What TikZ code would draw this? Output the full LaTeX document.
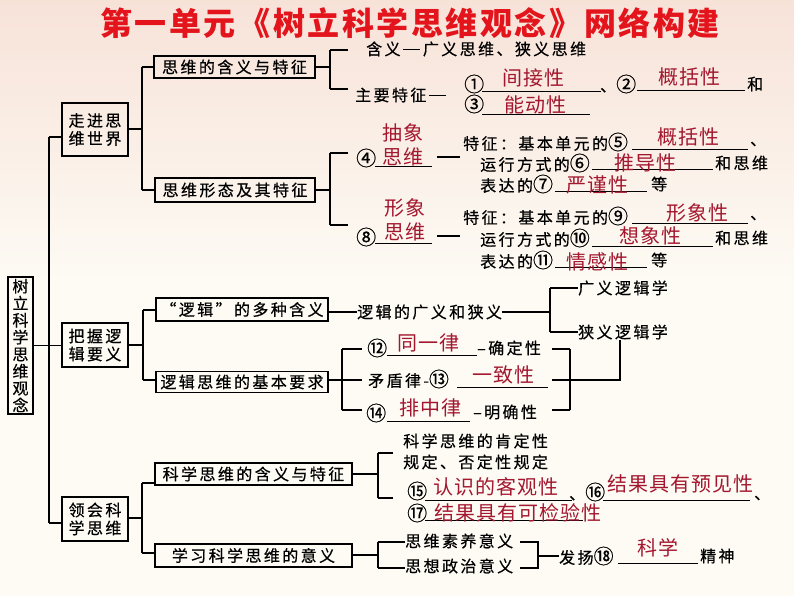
\documentclass[tikz,border=0pt]{standalone}
\usepackage{fontspec}
\newfontfamily\cjk{Noto Sans CJK SC}[LetterSpace=15,FakeBold=0.5]
\newfontfamily\cjkred{Noto Sans CJK SC}[LetterSpace=5]
\newfontfamily\cjktitle{Noto Sans CJK SC}[LetterSpace=8]
\newcommand\cn[1]{{\fontsize{20}{20}\selectfont #1}}
\newcommand\dash{\,\raisebox{0.32em}{\rule{17pt}{1.1pt}}\,}
\definecolor{ansred}{HTML}{A3172F}
\definecolor{titlered}{HTML}{E3141B}
\definecolor{bgtop}{HTML}{F7E2D8}
\definecolor{bgbot}{HTML}{FDFBF4}
\begin{document}
\begin{tikzpicture}[x=1pt,y=-1pt,
  box/.style={draw, line width=1.3pt, inner sep=0pt, align=center, font=\cjk\fontsize{16}{18}\selectfont},
  ln/.style={line width=1.4pt},
  txt/.style={anchor=west, inner sep=0pt, font=\cjk\fontsize{16}{18}\selectfont},
  ans/.style={inner sep=0pt, text=ansred, align=center, font=\cjkred\fontsize{20}{24}\selectfont},
  ul/.style={line width=1pt}]
\useasboundingbox (0,0) rectangle (794,596);
\fill[bgbot] (0,0) rectangle (794,596);
\shade[top color=bgtop, bottom color=bgbot] (0,0) rectangle (794,280);
% title
\node[inner sep=0pt, text=titlered, font=\cjktitle\bfseries\fontsize{32}{36}\selectfont] (title) at (410,23) {第一单元《树立科学思维观念》网络构建};
% root
\node[box, minimum width=25, minimum height=137, font=\cjk\fontsize{16}{17}\selectfont] (root) at (20.5,345.5) {树\\立\\科\\学\\思\\维\\观\\念};
% level 1
\node[box, minimum width=66, minimum height=53] (zj) at (95,129.5) {走进思\\维世界};
\node[box, minimum width=66, minimum height=44] (bw) at (95,345) {把握逻\\辑要义};
\node[box, minimum width=66, minimum height=44] (lh) at (95,519) {领会科\\学思维};
% spine
\coordinate (s1) at (49,137);
\coordinate (s2) at (49,345.5);
\coordinate (s3) at (49,523);
\draw[ln] (s1) -- (s3);
\draw[ln] (root.east |- s2) -- (s2);
\draw[ln] (s1) -- (zj.west |- s1);
\draw[ln] (s2) -- (bw.west |- s2);
\draw[ln] (s3) -- (lh.west |- s3);
% level 2
\node[box, minimum width=161, minimum height=22] (A1) at (234.5,67) {思维的含义与特征};
\node[box, minimum width=160, minimum height=24] (A2) at (235,190) {思维形态及其特征};
\node[box, minimum width=172, minimum height=23] (B1) at (242,309.5) {“逻辑”的多种含义};
\node[box, minimum width=172, minimum height=21] (B2) at (242,382) {逻辑思维的基本要求};
\node[box, minimum width=197, minimum height=22] (C1) at (253.5,474) {科学思维的含义与特征};
\node[box, minimum width=197, minimum height=23] (C2) at (253.5,555.5) {学习科学思维的意义};
% level1 -> level2 brackets
\coordinate (k1) at (142,129); \coordinate (k1a) at (142,67); \coordinate (k1b) at (142,190);
\draw[ln] (zj.east |- k1) -- (k1); \draw[ln] (k1a) -- (k1b);
\draw[ln] (k1a) -- (A1.west); \draw[ln] (k1b) -- (A2.west);
\coordinate (k2) at (143,345); \coordinate (k2a) at (143,310); \coordinate (k2b) at (143,380);
\draw[ln] (bw.east |- k2) -- (k2); \draw[ln] (k2a) -- (k2b);
\draw[ln] (k2a) -- (B1.west |- k2a); \draw[ln] (k2b) -- (B2.west |- k2b);
\coordinate (k3) at (142,518); \coordinate (k3a) at (142,483); \coordinate (k3b) at (142,553);
\draw[ln] (lh.east |- k3) -- (k3); \draw[ln] (k3a) -- (k3b);
\draw[ln] (k3a) -- (C1.west |- k3a); \draw[ln] (k3b) -- (C2.west |- k3b);

% ===== A1 =====
\coordinate (a1) at (330,67); \coordinate (a1t) at (330,50); \coordinate (a1b) at (330,89);
\draw[ln] (A1.east) -- (a1); \draw[ln] (a1t) -- (a1b);
\draw[ln] (a1t) -- ++(18,0); \draw[ln] (a1b) -- ++(18,0);
\node[txt] (hy) at (366,49) {含义\dash 广义思维、狭义思维};
\node[txt] (zy) at (355,95) {主要特征\dash};
\node[txt] (n1) at (464,84) {\cn{①}};
\draw[ul] (482,92) -- (601,92);
\node[ans] (r1) at (533,78) {间接性};
\node[txt] (n2) at (600,84) {、\cn{②}};
\draw[ul] (637,91) -- (745,91);
\node[ans] (r2) at (689,77) {概括性};
\node[txt] (he) at (747,84) {和};
\node[txt] (n3) at (464,104) {\cn{③}};
\draw[ul] (482,115) -- (590,115);
\node[ans] (r3) at (535,105) {能动性};

% ===== A2 =====
\coordinate (a2) at (330,190); \coordinate (a2t) at (330,153); \coordinate (a2b) at (330,225);
\draw[ln] (A2.east) -- (a2); \draw[ln] (a2t) -- (a2b);
\draw[ln] (a2t) -- ++(18,0); \draw[ln] (a2b) -- ++(18,0);
% abstract
\node[txt] (n4) at (356,158) {\cn{④}};
\draw[ul] (375,167) -- (432,167);
\node[ans] (r4) at (403,145) {抽象\\思维};
\draw[ln] (437,157) -- (460,157);
\node[txt] (f5) at (463,142) {特征：基本单元的\cn{⑤}};
\draw[ul] (632,150) -- (748,150);
\node[ans] (r5) at (688,137) {概括性};
\node[txt] (d5) at (750,144) {、};
\node[txt] (f6) at (480,163) {运行方式的\cn{⑥}};
\draw[ul] (592,170) -- (713,170);
\node[ans] (r6) at (645,163) {推导性};
\node[txt] (h6) at (715,163) {和思维};
\node[txt] (f7) at (480,184) {表达的\cn{⑦}};
\draw[ul] (555,191) -- (647,191);
\node[ans] (r7) at (597,185) {严谨性};
\node[txt] (e7) at (651,184) {等};
% image
\node[txt] (n8) at (356,237) {\cn{⑧}};
\draw[ul] (375,243) -- (432,243);
\node[ans] (r8) at (405,220) {形象\\思维};
\draw[ln] (437,236) -- (460,236);
\node[txt] (f9) at (463,216) {特征：基本单元的\cn{⑨}};
\draw[ul] (632,223) -- (748,223);
\node[ans] (r9) at (697,213) {形象性};
\node[txt] (d9) at (750,218) {、};
\node[txt] (f10) at (480,238) {运行方式的\cn{⑩}};
\draw[ul] (592,246) -- (713,246);
\node[ans] (r10) at (650,236) {想象性};
\node[txt] (h10) at (715,238) {和思维};
\node[txt] (f11) at (480,260) {表达的\cn{⑪}};
\draw[ul] (555,267) -- (647,267);
\node[ans] (r11) at (597,262) {情感性};
\node[txt] (e11) at (651,260) {等};

% ===== B1 =====
\node[txt] (lj) at (357,312) {逻辑的广义和狭义};
\draw[ln] (B1.east |- lj) -- (lj.west);
\coordinate (b1) at (550,312); \coordinate (b1t) at (550,288); \coordinate (b1b) at (550,332);
\draw[ln] (lj.east) -- (b1); \draw[ln] (b1t) -- (b1b);
\node[txt] (gy) at (578,288) {广义逻辑学};
\node[txt] (xy) at (578,332) {狭义逻辑学};
\draw[ln] (b1t) -- (gy.west); \draw[ln] (b1b) -- (xy.west);

% ===== B2 =====
\coordinate (b2) at (342,380); \coordinate (b2t) at (342,349); \coordinate (b2b) at (342,410);
\draw[ln] (B2.east |- b2) -- (b2); \draw[ln] (b2t) -- (b2b);
\draw[ln] (b2t) -- ++(20,0); \draw[ln] (b2) -- ++(20,0); \draw[ln] (b2b) -- ++(20,0);
\node[txt] (n12) at (367,348) {\cn{⑫}};
\draw[ul] (387,355) -- (477,355);
\node[ans] (r12) at (428,343) {同一律};
\node[txt] (q12) at (477,348) {–确定性};
\node[txt] (n13) at (368,379) {矛盾律-\cn{⑬}};
\draw[ul] (457,387) -- (548,387);
\node[ans] (r13) at (503,375) {一致性};
\node[txt] (n14) at (366,413) {\cn{⑭}};
\draw[ul] (387,421) -- (470,421);
\node[ans] (r14) at (430,408) {排中律};
\node[txt] (q14) at (473,412) {–明确性};
\coordinate (c2t) at (570,349); \coordinate (c2m) at (570,380); \coordinate (c2b) at (570,410);
\coordinate (c2e) at (620,380);
\draw[ln] (552,349) -- (c2t); \draw[ln] (552,380) -- (c2m); \draw[ln] (552,410) -- (c2b);
\draw[ln] (c2t) -- (c2b);
\draw[ln] (c2m) -- (c2e) -- (c2e |- xy.south);

% ===== C1 =====
\coordinate (c1) at (378,474); \coordinate (c1t) at (378,453); \coordinate (c1b) at (378,498);
\draw[ln] (C1.east) -- (c1); \draw[ln] (c1t) -- (c1b);
\draw[ln] (c1t) -- ++(15,0); \draw[ln] (c1b) -- ++(15,0);
\node[txt] (k15a) at (403,441) {科学思维的肯定性};
\node[txt] (k15b) at (403,462) {规定、否定性规定};
\node[txt] (n15) at (407,491) {\cn{⑮}};
\draw[ul] (425,500) -- (572,500);
\node[ans] (r15) at (496,487) {认识的客观性};
\node[txt] (n16) at (569,492) {、\cn{⑯}};
\draw[ul] (603,500) -- (750,500);
\node[ans] (r16) at (680,484) {结果具有预见性};
\node[txt] (d16) at (754,498) {、};
\node[txt] (n17) at (407,513) {\cn{⑰}};
\draw[ul] (425,520) -- (583,520);
\node[ans] (r17) at (518,513) {结果具有可检验性};

% ===== C2 =====
\coordinate (c3) at (378,555); \coordinate (c3t) at (378,542); \coordinate (c3b) at (378,568);
\draw[ln] (C2.east |- c3) -- (c3); \draw[ln] (c3t) -- (c3b);
\node[txt] (sy) at (405,541) {思维素养意义};
\node[txt] (zz) at (405,566) {思想政治意义};
\draw[ln] (c3t) -- (sy.west |- c3t); \draw[ln] (c3b) -- (zz.west |- c3b);
\coordinate (c4t) at (538,542); \coordinate (c4b) at (538,568); \coordinate (c4m) at (538,556);
\draw[ln] (520,542) -- (c4t) -- (c4b) -- (520,568);
\node[txt] (fy) at (559,556) {发扬\cn{⑱}};
\draw[ln] (c4m) -- (fy.west);
\draw[ul] (618,563) -- (698,563);
\node[ans] (r18) at (658,548) {科学};
\node[txt] (js) at (700,556) {精神};
\end{tikzpicture}
\end{document}
